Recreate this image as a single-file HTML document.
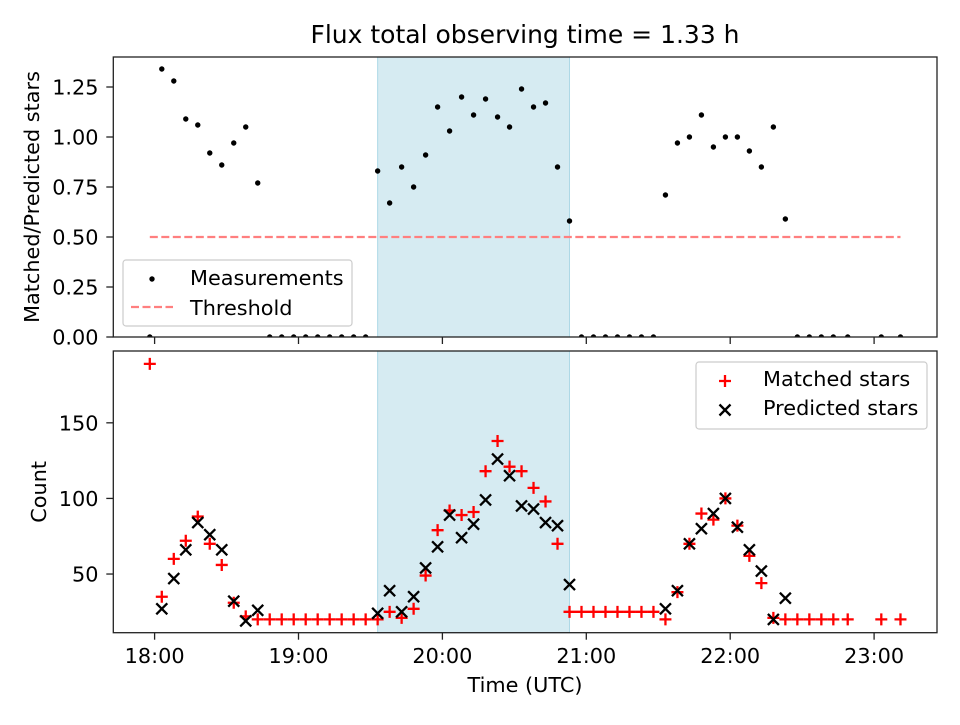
<!DOCTYPE html>
<html><head><meta charset="utf-8"><style>
body{margin:0;background:#fff;}
svg text{font-family:"DejaVu Sans","Liberation Sans",sans-serif;fill:#000;}
</style></head><body>
<svg id="fig" width="960" height="720" viewBox="0 0 960 720" xmlns="http://www.w3.org/2000/svg">
<rect width="960" height="720" fill="#fff"/>
<text x="525" y="43" font-size="25" text-anchor="middle">Flux total observing time = 1.33 h</text>
<g id="topg"></g><g id="botg"></g>
</svg>
<script>
// minutes after 18:00 for each observation
const times = [-2,3,8,13,18,23,28,33,38,43,48,53,58,63,68,73,78,83,88,93,98,103,108,113,118,123,128,133,138,143,148,153,158,163,168,173,178,183,188,193,198,203,208,213,218,223,228,233,238,243,248,253,258,263,268,273,278,283,289,303,311];
const ratio = [0,1.34,1.28,1.09,1.06,0.92,0.86,0.97,1.05,0.77,0,0,0,0,0,0,0,0,0,0.83,0.67,0.85,0.75,0.91,1.15,1.03,1.2,1.11,1.19,1.1,1.05,1.24,1.15,1.17,0.85,0.58,0,0,0,0,0,0,0,0.71,0.97,1.0,1.11,0.95,1.0,1.0,0.93,0.85,1.05,0.59,0,0,0,0,0,0,0];
const matched = [189,35,60,72,88,70,56,31,22,20,20,20,20,20,20,20,20,20,20,20,25,21,27,49,79,92,89,91,118,138,121,118,107,98,70,25,25,25,25,25,25,25,25,20,38,70,90,86,100,82,62,44,21,20,20,20,20,20,20,20,20];
const predicted = [null,27,47,66,84,76,66,32,19,26,null,null,null,null,null,null,null,null,null,24,39,25,35,54,68,89,74,83,99,126,115,95,93,84,82,43,null,null,null,null,null,null,null,27,39,70,80,90,100,81,66,52,20,34,null,null,null,null,null,null,null];
const threshold = 0.5;
const shadeStart = 93, shadeEnd = 173;
const xTickLabels = ["18:00","19:00","20:00","21:00","22:00","23:00"];
const xTickMins = [0,60,120,180,240,300];
const topTicks = [0,0.25,0.5,0.75,1.0,1.25];
const botTicks = [50,100,150];

const NS="http://www.w3.org/2000/svg";
const FS=20.8;
const L=113.3,R=937,T1=57,B1=337,T2=351,B2=632.7;
const x=m=>154.6+m*143.9/60;
const y1=v=>B1-(v-0)/(1.4-0)*(B1-T1);
const y2=v=>B2-(v-11.2)/(197.5-11.2)*(B2-T2);
function el(tag,attrs,parent,text){const e=document.createElementNS(NS,tag);for(const k in attrs)e.setAttribute(k,attrs[k]);if(text!==undefined)e.textContent=text;parent.appendChild(e);return e;}
const topG=document.getElementById('topg'),botG=document.getElementById('botg');

function axes(g,T,B,name){
  const cid='clip-'+name;
  const cp=el('clipPath',{id:cid},g);el('rect',{x:L,y:T,width:R-L,height:B-T},cp);
  const s=el('rect',{x:x(shadeStart),y:T,width:x(shadeEnd)-x(shadeStart),height:B-T,fill:'#add8e6','fill-opacity':0.5,stroke:'#add8e6'},g);
  
  
  return el('g',{'clip-path':'url(#'+cid+')'},g);
}
function frame(g,T,B,name){
  const f=el('rect',{x:L,y:T,width:R-L,height:B-T,fill:'none',stroke:'#222','stroke-width':1.3},g);
  
  
  xTickMins.forEach((m,i)=>{
    el('line',{x1:x(m),x2:x(m),y1:B,y2:B+7,stroke:'#222','stroke-width':1.3},g);
    if(name==='bottom'){
      const t=el('text',{x:x(m),y:663,'font-size':FS,'text-anchor':'middle'},g,xTickLabels[i]);
      
      
    }
  });
}
// TOP
const ti=axes(topG,T1,B1,'top');
const th=el('line',{x1:x(times[0]),x2:x(times[times.length-1]),y1:y1(threshold),y2:y1(threshold),stroke:'#ff7f7f','stroke-width':2.2,'stroke-dasharray':'8,3.5'},ti);


ratio.forEach((v,i)=>{
  const c=el('circle',{cx:x(times[i]),cy:y1(v),r:2.7,fill:'#000'},ti);
  
  
});
frame(topG,T1,B1,'top');
topTicks.forEach(v=>{
  el('line',{x1:L-7,x2:L,y1:y1(v),y2:y1(v),stroke:'#222','stroke-width':1.3},topG);
  const t=el('text',{x:98.5,y:y1(v)+7.5,'font-size':FS,'text-anchor':'end'},topG,v.toFixed(2));
  
  
});
const yt1=el('text',{x:0,y:0,'font-size':FS,'text-anchor':'middle',transform:`translate(39,${(T1+B1)/2}) rotate(-90)`},topG,'Matched/Predicted stars');


const lg=el('g',{},topG);


el('rect',{x:123,y:260,width:229,height:66,rx:3,fill:'#fff','fill-opacity':0.8,stroke:'#ccc','stroke-width':1.2},lg);
el('circle',{cx:152,cy:279,r:2.7,fill:'#000'},lg);
el('text',{x:190,y:285,'font-size':FS},lg,'Measurements');
el('line',{x1:131,x2:173,y1:307,y2:307,stroke:'#ff7f7f','stroke-width':2.2,'stroke-dasharray':'8,3.5'},lg);
el('text',{x:190,y:315,'font-size':FS},lg,'Threshold');

// BOTTOM
const bi=axes(botG,T2,B2,'bottom');
function plus(g,cx,cy){return el('path',{d:`M${cx-6},${cy}H${cx+6}M${cx},${cy-6}V${cy+6}`,stroke:'#f00','stroke-width':2.3,fill:'none'},g);}
function cross(g,cx,cy){return el('path',{d:`M${cx-5.5},${cy-5.5}L${cx+5.5},${cy+5.5}M${cx-5.5},${cy+5.5}L${cx+5.5},${cy-5.5}`,stroke:'#000','stroke-width':2.3,fill:'none'},g);}
matched.forEach((v,i)=>{
  if(v===null)return;
  const p=plus(bi,x(times[i]),y2(v));
  
  
});
predicted.forEach((v,i)=>{
  if(v===null)return;
  const p=cross(bi,x(times[i]),y2(v));
  
  
});
frame(botG,T2,B2,'bottom');
botTicks.forEach(v=>{
  el('line',{x1:L-7,x2:L,y1:y2(v),y2:y2(v),stroke:'#222','stroke-width':1.3},botG);
  const t=el('text',{x:98.5,y:y2(v)+7.5,'font-size':FS,'text-anchor':'end'},botG,String(v));
  
  
});
const yt2=el('text',{x:0,y:0,'font-size':FS,'text-anchor':'middle',transform:`translate(46,${(T2+B2)/2}) rotate(-90)`},botG,'Count');


const xt=el('text',{x:525,y:692,'font-size':FS,'text-anchor':'middle'},botG,'Time (UTC)');


const lg2=el('g',{},botG);


el('rect',{x:696,y:362,width:231,height:67,rx:3,fill:'#fff','fill-opacity':0.8,stroke:'#ccc','stroke-width':1.2},lg2);
plus(lg2,725,381);
el('text',{x:763,y:386,'font-size':FS},lg2,'Matched stars');
cross(lg2,725,410);
el('text',{x:763,y:415,'font-size':FS},lg2,'Predicted stars');
</script>
</body></html>
